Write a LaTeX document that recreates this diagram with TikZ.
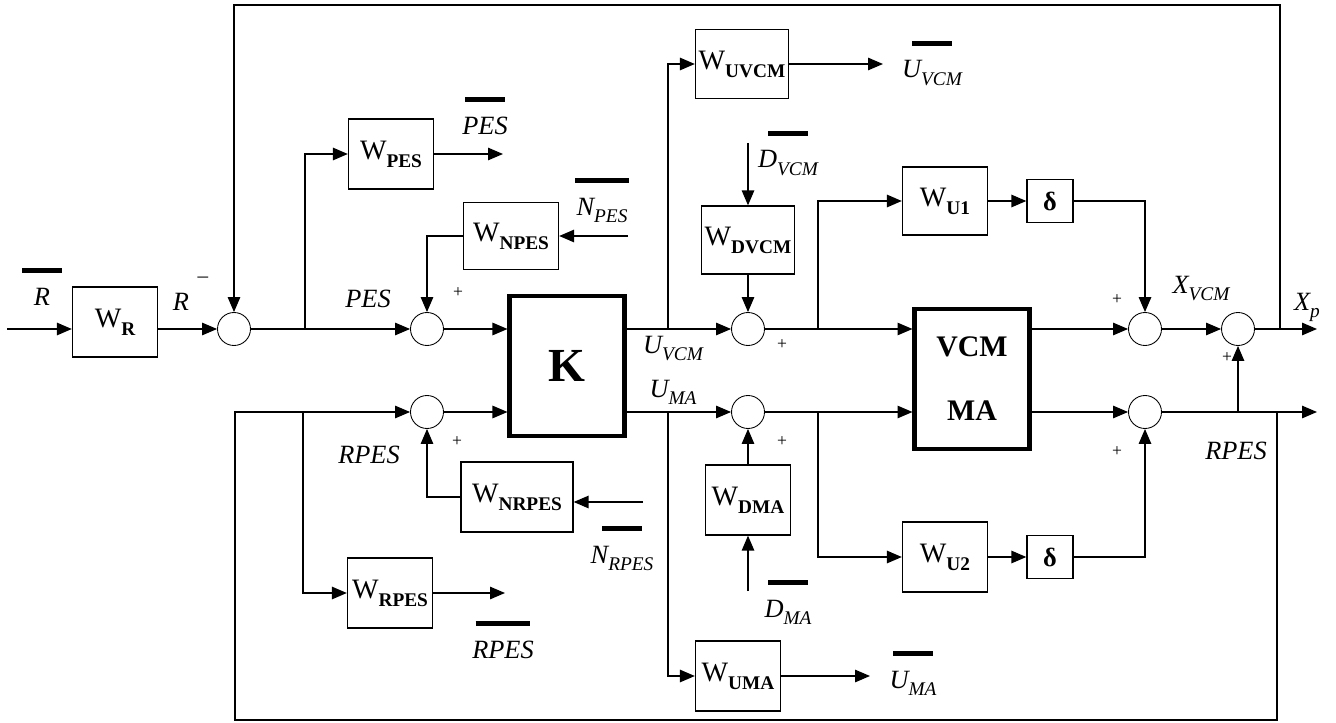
\documentclass[tikz,border=0pt]{standalone}
\usepackage{fontspec}
\setmainfont{Liberation Serif}
\usepackage{tikz}
\usetikzlibrary{arrows.meta}
\newcommand{\wsub}[1]{W\raisebox{-4.5pt}{\fontsize{11}{12}\selectfont\bfseries #1}}
\newcommand{\isub}[1]{\raisebox{-4.5pt}{\fontsize{11}{12}\selectfont\itshape #1}}
\newcommand{\topbar}[2][0.8cm]{\ooalign{\hidewidth\smash{\raisebox{18pt}{\rule{#1}{2.8pt}}}\hidewidth\cr#2\cr}}

\begin{document}
\begin{tikzpicture}[x=0.02cm,y=-0.02cm,line width=0.75pt,>={Triangle[length=0.3cm,width=0.25cm]},
  blk/.style={draw,rectangle,inner sep=0pt,minimum width=1.7cm,minimum height=1.4cm,font=\fontsize{16}{18}\selectfont},
  bigblk/.style={draw,rectangle,line width=2.3pt,inner sep=0pt,minimum width=2.3cm,minimum height=2.8cm,font=\fontsize{17}{20}\selectfont\bfseries},
  dbox/.style={draw,rectangle,inner sep=0pt,minimum width=0.92cm,minimum height=0.86cm,font=\fontsize{15}{16}\selectfont\bfseries},
  sumc/.style={draw,circle,line width=0.5pt,minimum size=0.66cm,inner sep=0pt},
  lbl/.style={anchor=base,inner sep=0pt,font=\fontsize{15}{18}\selectfont\itshape},
  sgn/.style={inner sep=0pt,font=\fontsize{10}{10}\selectfont}]
\useasboundingbox (0,0) rectangle (1336,723);
\node[blk] (WR) at (115,322) {\wsub{R}};
\node[sumc] (s1) at (234,329) {};
\node[sumc] (s2) at (427,329) {};
\node[sumc] (s3) at (427,412) {};
\node[blk] (WPES) at (391,154) {\wsub{PES}};
\node[blk,minimum width=1.9cm,minimum height=1.34cm] (WNPES) at (511,236) {\wsub{NPES}};
\node[blk,minimum width=2.24cm] (WNRPES) at (517,497) {\wsub{NRPES}};
\node[blk] (WRPES) at (390,593) {\wsub{RPES}};
\node[bigblk,font=\fontsize{27}{30}\selectfont\bfseries] (K) at (567,366) {K};
\node[sumc] (s4) at (748,329) {};
\node[sumc] (s5) at (748,412) {};
\node[blk,minimum width=1.86cm,minimum height=1.38cm] (WUVCM) at (742,64) {\wsub{UVCM}};
\node[blk,minimum width=1.86cm,minimum height=1.36cm] (WDVCM) at (748,240) {\wsub{DVCM}};
\node[blk] (WDMA) at (748,500) {\wsub{DMA}};
\node[blk] (WUMA) at (738,676) {\wsub{UMA}};
\node[blk,minimum height=1.36cm] (WU1) at (945,201) {\wsub{U1}};
\node[dbox] (d1) at (1050,201) {δ};
\node[blk] (WU2) at (945,557) {\wsub{U2}};
\node[dbox] (d2) at (1050,557) {δ};
\node[bigblk,align=center] (VM) at (972,379) {VCM\\[0.58cm]MA};
\node[sumc] (s6) at (1145,329) {};
\node[sumc] (s7) at (1238,329) {};
\node[sumc] (s8) at (1145,412) {};
\coordinate (inR) at (7,329);
\coordinate (b1) at (305,329);
\coordinate (b2) at (303,412);
\coordinate (b3) at (668,329);
\coordinate (b4) at (668,412);
\coordinate (b5) at (818,329);
\coordinate (b6) at (818,412);
\coordinate (b7) at (1238,412);
\coordinate (bX) at (1280,329);
\coordinate (bR) at (1277,412);
\coordinate (tL) at (234,5);
\coordinate (bL) at (235,720);
\coordinate (oPES) at (503,154);
\coordinate (iNPES) at (628,236);
\coordinate (iNRPES) at (643,502);
\coordinate (oRPES) at (505,593);
\coordinate (oUVCM) at (883,64);
\coordinate (oUMA) at (870,676);
\coordinate (iDVCM) at (748,143);
\coordinate (iDMA) at (748,591);
\coordinate (oXp) at (1317,329);
\coordinate (oRP) at (1317,412);
\draw[->] (inR) -- (inR -| WR.west);
\draw[->] (WR.east |- s1) -- (s1);
\draw[->] (s1) -- (s2);
\draw[->] (b1) |- (WPES);
\draw[->] (WPES) -- (oPES);
\draw[->] (iNPES) -- (WNPES);
\draw[->] (WNPES.west) -| (s2);
\draw[->] (s2) -- (s2 -| K.west);
\draw[->] (s3) -- (s3 -| K.west);
\draw[->] (iNRPES) -- (iNRPES -| WNRPES.east);
\draw[->] (WNRPES.west) -| (s3);
\draw[->] (bR) |- (bL) |- (s3);
\draw[->] (b2) |- (WRPES);
\draw[->] (WRPES) -- (oRPES);
\draw[->] (bX) |- (tL) -- (s1);
\draw[->] (K.east |- s4) -- (s4);
\draw[->] (K.east |- s5) -- (s5);
\draw[->] (b3) |- (WUVCM);
\draw[->] (WUVCM) -- (oUVCM);
\draw[->] (b4) |- (WUMA);
\draw[->] (WUMA) -- (oUMA);
\draw[->] (iDVCM) -- (WDVCM);
\draw[->] (WDVCM) -- (s4);
\draw[->] (iDMA) -- (WDMA);
\draw[->] (WDMA) -- (s5);
\draw[->] (s4) -- (s4 -| VM.west);
\draw[->] (s5) -- (s5 -| VM.west);
\draw[->] (b5) |- (WU1);
\draw[->] (WU1) -- (d1);
\draw[->] (d1) -| (s6);
\draw[->] (b6) |- (WU2);
\draw[->] (WU2) -- (d2);
\draw[->] (d2) -| (s8);
\draw[->] (VM.east |- s6) -- (s6);
\draw[->] (VM.east |- s8) -- (s8);
\draw[->] (s6) -- (s7);
\draw[->] (s7) -- (oXp);
\draw[->] (s8) -- (oRP);
\draw[->] (b7) -- (s7);
\node[lbl] (lRb) at (42,305) {\topbar{R}};
\node[lbl] (lR) at (181,310) {R};
\node[sgn,font=\fontsize{12}{12}\selectfont] (m1) at (203,280) {–};
\node[lbl] (lPESb) at (485,134) {\topbar{PES}};
\node[lbl] (lNPES) at (602,215) {\topbar[1.08cm]{N\isub{PES}}};
\node[lbl] (lPES) at (368,307) {PES};
\node[sgn] (p2) at (458,293) {+};
\node[lbl] (lRPES) at (369,463) {RPES};
\node[sgn] (p3) at (457,442) {+};
\node[lbl] (lNRPES) at (622,563) {\topbar{N\isub{RPES}}};
\node[lbl] (lRPESb) at (503,658) {\topbar[1.1cm]{RPES}};
\node[lbl] (lUVCM) at (673,353) {U\isub{VCM}};
\node[lbl] (lUMA) at (673,397) {U\isub{MA}};
\node[lbl] (lUVCMb) at (932,78) {\topbar{U\isub{VCM}}};
\node[lbl] (lUMAb) at (913,688) {\topbar{U\isub{MA}}};
\node[lbl] (lDVCM) at (788,168) {\topbar{D\isub{VCM}}};
\node[lbl] (lDMA) at (788,617) {\topbar{D\isub{MA}}};
\node[sgn] (p4) at (782,345) {+};
\node[sgn] (p5) at (782,442) {+};
\node[lbl] (lXVCM) at (1201,293) {X\isub{VCM}};
\node[lbl] (lXp) at (1307,310) {X\isub{p}};
\node[sgn] (p6) at (1117,300) {+};
\node[sgn] (p7) at (1227,358) {+};
\node[sgn] (p8) at (1117,452) {+};
\node[lbl] (lRPESr) at (1236,459) {RPES};
\end{tikzpicture}
\end{document}
